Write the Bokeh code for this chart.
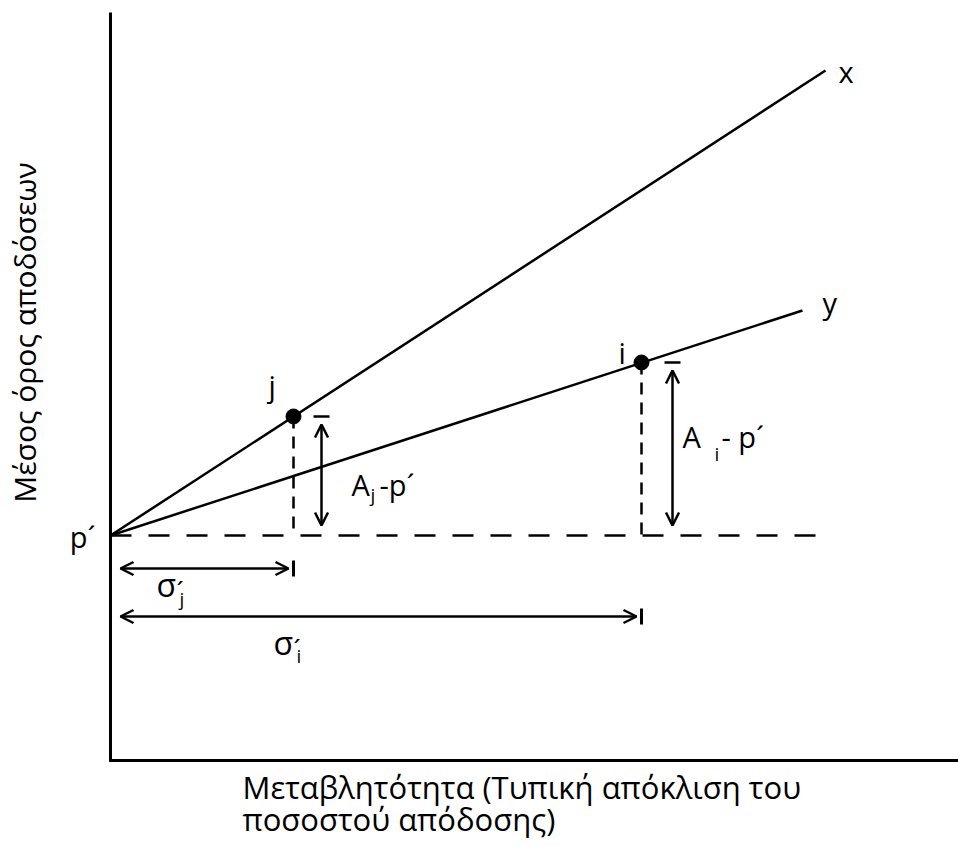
import math

from bokeh.core.properties import value
from bokeh.embed import file_html
from bokeh.models import Arrow, OpenHead, Range1d
from bokeh.plotting import figure
from bokeh.resources import INLINE

# Portfolio data: volatility (σ) and mean return, measured from the level p´
p_prime = 0.0
portfolios = ["j", "i"]
sigma = [18.3, 53.1]
mean_ret = [11.9, 17.3]

# Two return lines starting at p´
line_names = ["x", "y"]
line_end_sigma = [71.5, 69.2]
line_end_ret = [46.5, 22.5]

# Axis extents
axis_floor = -22.5
axis_top = 52.3
axis_right = 90.0
baseline_end = 72.0

# Texts
y_title = "Μέσος όρος αποδόσεων"
x_title = ["Μεταβλητότητα (Τυπική απόκλιση του", "ποσοστού απόδοσης)"]

FONT = value("Open Sans")
INK = "#000000"

p = figure(width=958, height=846,
           x_range=Range1d(-11.0, 84.8), y_range=Range1d(-31.1, 53.5),
           output_backend="svg", toolbar_location=None, min_border=0,
           outline_line_color=None, x_axis_type=None, y_axis_type=None,
           background_fill_color="white", border_fill_color="white")
p.grid.visible = False


def label(x, y, txt, size, dx=0, dy=0, align="left", angle=0.0):
    p.text(x=[x], y=[y], text=[txt], x_offset=dx, y_offset=dy,
           text_font=FONT, text_font_size=f"{size}px", text_color=INK,
           text_align=align, text_baseline="alphabetic", angle=angle)


def head():
    return OpenHead(size=13, line_width=2.5, line_color=INK)


# axes drawn as one L-shaped path
p.line([0, 0, axis_right], [axis_top, axis_floor, axis_floor],
       line_width=3, color=INK, line_join="miter")

# return lines x and y
for s_end, r_end in zip(line_end_sigma, line_end_ret):
    p.line([0, s_end], [p_prime, r_end], line_width=2.5, color=INK)

# dashed level p´
p.line([0, baseline_end], [p_prime, p_prime], line_width=2.5, color=INK,
       line_dash="21 17")

# dashed drops from the portfolios to p´
p.segment(x0=sigma, y0=mean_ret, x1=sigma, y1=[p_prime] * len(sigma),
          line_width=2.5, color=INK, line_dash="12 8")

# portfolio points
p.scatter(sigma, mean_ret, size=15, color=INK)

# vertical arrows A - p´ with their top bars
arrow_gap = [2.8, 3.1]
for s, r, g in zip(sigma, mean_ret, arrow_gap):
    ax = s + g
    p.add_layout(Arrow(start=head(), end=head(),
                       x_start=ax, y_start=r - 0.8, x_end=ax, y_end=p_prime + 1.0,
                       line_width=2.5, line_color=INK))
    p.segment(x0=[ax - 0.8], y0=[r], x1=[ax + 0.8], y1=[r],
              line_width=2.5, color=INK)

# horizontal σ arrows with end ticks
sigma_rows = [-3.3, -8.1]
for s, row in zip(sigma, sigma_rows):
    p.add_layout(Arrow(start=head(), end=head(),
                       x_start=1.0, y_start=row, x_end=s - 0.5, y_end=row,
                       line_width=2.5, line_color=INK))
    p.segment(x0=[s], y0=[row + 0.8], x1=[s], y1=[row - 0.8],
              line_width=3, color=INK)

# point names
label(sigma[0], mean_ret[0], portfolios[0], 29, dx=-25, dy=-31)
label(sigma[1], mean_ret[1], portfolios[1], 29, dx=-23, dy=-10)

# line names
label(line_end_sigma[0], line_end_ret[0], line_names[0], 29, dx=13, dy=1)
label(line_end_sigma[1], line_end_ret[1], line_names[1], 29, dx=20, dy=-8)

# p´ on the vertical axis
label(0, p_prime, "p´", 29, dx=-15, dy=1, align="right")

# A - p´ labels
label(sigma[0], mean_ret[0], "A", 29, dx=58, dy=68)
label(sigma[0], mean_ret[0], "j", 19, dx=77, dy=78)
label(sigma[0], mean_ret[0], "-p´", 29, dx=86, dy=68)
label(sigma[1], mean_ret[1], "A", 29, dx=41, dy=74)
label(sigma[1], mean_ret[1], "i", 19, dx=73, dy=91)
label(sigma[1], mean_ret[1], "- p´", 29, dx=80, dy=74)

# σ´ labels under the arrows
sigma_label_x = [4.6, 16.3]
sigma_label_dy = [16, 26]
sub_dy = [30, 39]
for x_sig, row, sub, ddy, sdy in zip(sigma_label_x, sigma_rows, portfolios,
                                     sigma_label_dy, sub_dy):
    label(x_sig, row, "σ", 32, dy=ddy)
    label(x_sig, row, "´", 26, dx=20, dy=ddy + 6)
    label(x_sig, row, sub, 19, dx=23, dy=sdy)

# axis titles
label(-8.6, 20.3, y_title, 30, align="center", angle=math.pi / 2)
label(13.2, -25.15, x_title[0], 31)
label(13.2, -28.35, x_title[1], 31)

open("out.html", "w").write(file_html(p, INLINE))
